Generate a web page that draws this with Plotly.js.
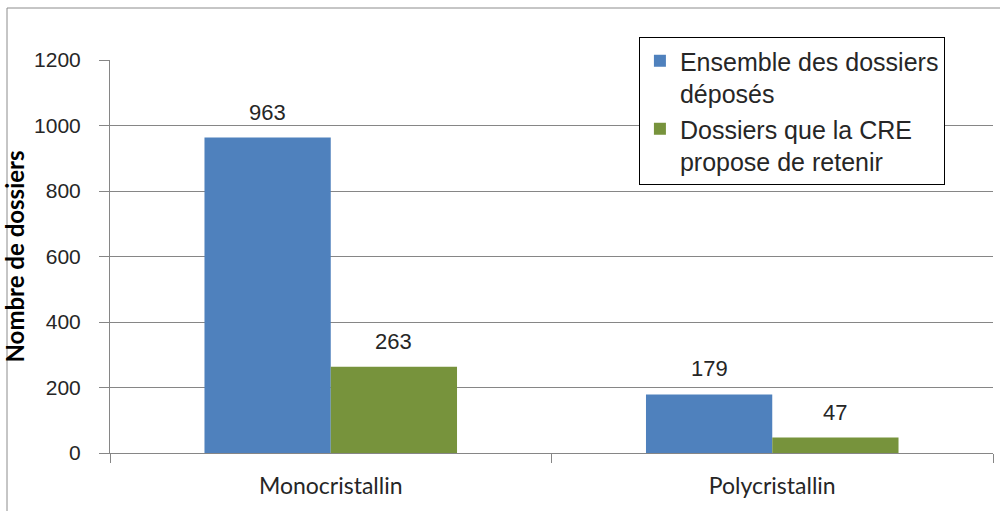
<!DOCTYPE html>
<html>
<head>
<meta charset="utf-8">
<script src="https://cdn.plot.ly/plotly-3.0.1.min.js"></script>
<style>
html,body{margin:0;padding:0;background:#fff;}
#chart{width:1000px;height:511px;}
</style>
</head>
<body>
<div id="chart"></div>
<script>
const categories = ["Monocristallin", "Polycristallin"];
const seriesNames = ["Ensemble des dossiers<br>déposés", "Dossiers que la CRE<br>propose de retenir"];
const deposes = [963, 179];
const retenus = [263, 47];
const yTicks = [0, 200, 400, 600, 800, 1000, 1200];

const colors = ["#4F81BD", "#77933C"];
const series = [deposes, retenus];

const traces = series.map((vals, i) => ({
  type: "bar",
  name: seriesNames[i],
  x: categories,
  y: vals,
  marker: {color: colors[i], line: {width: 0}},
  hoverinfo: "x+y"
}));

// Data labels above each bar
const plotW = 1000 - 110 - 7;
const catW = plotW / categories.length;
const bargap = 0.428;
const barW = catW * (1 - bargap) / series.length;
const annotations = [];
series.forEach((vals, i) => {
  vals.forEach((v, j) => {
    annotations.push({
      x: categories[j], y: v, xref: "x", yref: "y",
      text: String(v), showarrow: false,
      xanchor: "center", yanchor: "bottom",
      xshift: (i - (series.length - 1) / 2) * barW,
      yshift: 11,
      font: {family: "Liberation Sans, Arial, sans-serif", size: 22, color: "#262626"}
    });
  });
});

const layout = {
  width: 1000, height: 511,
  margin: {l: 110, r: 7, t: 60, b: 58, pad: 0},
  paper_bgcolor: "#fff", plot_bgcolor: "#fff",
  barmode: "group",
  bargap: bargap, bargroupgap: 0,
  showlegend: true,
  legend: {
    x: 0.599, y: 1.0585, xanchor: "left", yanchor: "top",
    bordercolor: "#000", borderwidth: 1, bgcolor: "#fff",
    font: {family: "Liberation Sans, Arial, sans-serif", size: 25, color: "#262626"},
    valign: "top",
    traceorder: "normal",
    itemwidth: 30
  },
  xaxis: {
    type: "category",
    showgrid: false,
    showline: true, linecolor: "#868686", linewidth: 1,
    ticks: "outside", ticklen: 9, tickcolor: "#868686", tickson: "boundaries",
    ticklabelstandoff: 12,
    tickfont: {family: "Lato, Calibri, sans-serif", size: 23, color: "#262626"},
    fixedrange: true
  },
  yaxis: {
    range: [0, 1200],
    tickvals: yTicks, ticktext: yTicks.map(String),
    showgrid: true, gridcolor: "#868686", gridwidth: 1,
    showline: true, linecolor: "#868686", linewidth: 1,
    zeroline: false,
    ticks: "outside", ticklen: 10, tickcolor: "#868686",
    ticklabelstandoff: 14,
    tickfont: {family: "Liberation Sans, Arial, sans-serif", size: 21, color: "#262626"},
    title: {text: "Nombre de dossiers", standoff: 4,
            font: {family: "Lato, Calibri, sans-serif", size: 24, color: "#000", weight: "bold"}},
    fixedrange: true
  },
  annotations: annotations,
  shapes: [{
    type: "rect", xref: "paper", yref: "paper",
    x0: (7 - 110) / plotW, y0: -0.3, x1: 1.2,
    y1: (453 - 8) / 393,
    line: {color: "#8c8c8c", width: 1}, fillcolor: "rgba(0,0,0,0)", layer: "below"
  }]
};

Plotly.newPlot("chart", traces, layout, {displayModeBar: false, staticPlot: true});
</script>
</body>
</html>
